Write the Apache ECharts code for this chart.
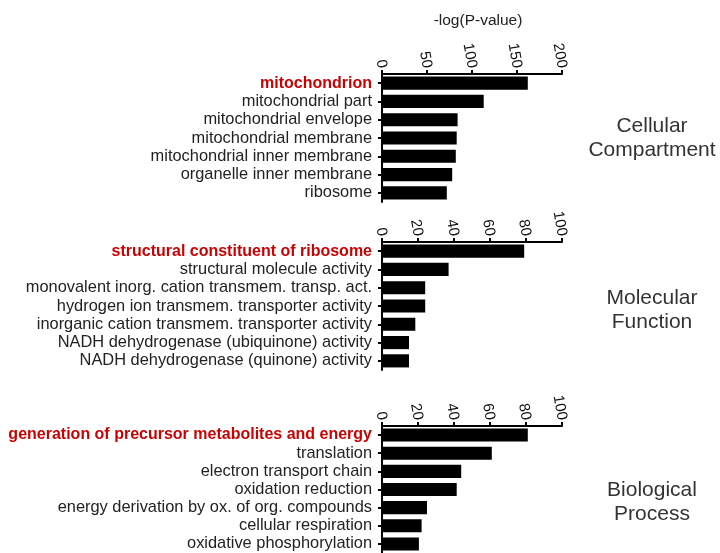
<!DOCTYPE html>
<html>
<head>
<meta charset="utf-8">
<script src="https://cdn.jsdelivr.net/npm/echarts@6/dist/echarts.min.js"></script>
<style>
  html, body { margin: 0; padding: 0; background: #fff; }
  #main { width: 720px; height: 553px; }
</style>
</head>
<body>
<div id="main"></div>
<script>
var ccTerms = ['mitochondrion', 'mitochondrial part', 'mitochondrial envelope',
    'mitochondrial membrane', 'mitochondrial inner membrane',
    'organelle inner membrane', 'ribosome'];
var ccValues = [162, 113, 84, 83, 82, 78, 72];

var mfTerms = ['structural constituent of ribosome', 'structural molecule activity',
    'monovalent inorg. cation transmem. transp. act.',
    'hydrogen ion transmem. transporter activity',
    'inorganic cation transmem. transporter activity',
    'NADH dehydrogenase (ubiquinone) activity',
    'NADH dehydrogenase (quinone) activity'];
var mfValues = [79, 37, 24, 24, 18.5, 15, 15];

var bpTerms = ['generation of precursor metabolites and energy', 'translation',
    'electron transport chain', 'oxidation reduction',
    'energy derivation by ox. of org. compounds',
    'cellular respiration', 'oxidative phosphorylation'];
var bpValues = [81, 61, 44, 41.5, 25, 22, 20.5];

var panelNames = ['Cellular\nCompartment', 'Molecular\nFunction', 'Biological\nProcess'];
var axisMax = [200, 100, 100];
var axisStep = [50, 20, 20];

var dom = document.getElementById('main');
var myChart = echarts.init(dom);

var terms = [ccTerms, mfTerms, bpTerms];
var values = [ccValues, mfValues, bpValues];
var tops = [74, 242, 426];
var heights = [128, 128, 127];
var labelTop = [109, 281, 473];

var grids = [], xAxes = [], yAxes = [], series = [], titles = [];
for (var i = 0; i < 3; i++) {
    grids.push({ left: 382, width: 180, top: tops[i], height: heights[i] });
    xAxes.push({
        gridIndex: i,
        type: 'value',
        position: 'top',
        min: 0,
        max: axisMax[i],
        interval: axisStep[i],
        splitLine: { show: false },
        axisLine: { show: true, lineStyle: { color: '#000', width: 2 } },
        axisTick: { show: true, length: 4, lineStyle: { color: '#000', width: 2 } },
        axisLabel: {
            rotate: 80,
            margin: 6,
            color: '#111',
            fontSize: 15,
            fontFamily: 'Liberation Sans'
        }
    });
    yAxes.push({
        gridIndex: i,
        type: 'category',
        inverse: true,
        data: terms[i],
        axisLine: { show: true, lineStyle: { color: '#000', width: 2 } },
        axisTick: { show: true, alignWithLabel: true, interval: 0, length: 4, lineStyle: { color: '#000', width: 2 } },
        axisLabel: {
            interval: 0,
            margin: 10,
            color: '#222',
            fontSize: 16.4,
            fontFamily: 'Liberation Sans',
            formatter: function (v, idx) {
                return idx === 0 ? '{hi|' + v + '}' : v;
            },
            rich: {
                hi: { color: '#cc0000', fontWeight: 'bold', fontSize: 16, fontFamily: 'Liberation Sans' }
            }
        }
    });
    series.push({
        type: 'bar',
        xAxisIndex: i,
        yAxisIndex: i,
        data: values[i],
        barCategoryGap: '28%',
        itemStyle: { color: '#000' },
        silent: true
    });
    titles.push({
        text: panelNames[i],
        left: 647,
        top: labelTop[i],
        textAlign: 'center',
        textStyle: {
            color: '#333',
            fontSize: 21,
            fontWeight: 'normal',
            fontFamily: 'Liberation Sans',
            lineHeight: 24
        }
    });
}
titles.push({
    text: '-log(P-value)',
    left: 473,
    top: 8,
    textAlign: 'center',
    textStyle: { color: '#222', fontSize: 15.5, fontWeight: 'normal', fontFamily: 'Liberation Sans' }
});

var option = {
    animation: false,
    title: titles,
    grid: grids,
    xAxis: xAxes,
    yAxis: yAxes,
    series: series
};
myChart.setOption(option);
</script>
</body>
</html>
